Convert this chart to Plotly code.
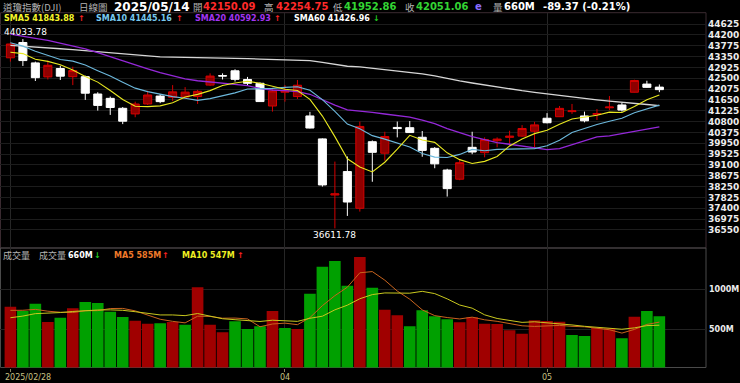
import numpy as np
import plotly.graph_objects as go

# ---------------- data ----------------
dates = ["2025/02/28", "03/03", "03/04", "03/05", "03/06", "03/07", "03/10", "03/11", "03/12", "03/13",
         "03/14", "03/17", "03/18", "03/19", "03/20", "03/21", "03/24", "03/25", "03/26", "03/27",
         "03/28", "03/31", "04/01", "04/02", "04/03", "04/04", "04/07", "04/08", "04/09", "04/10",
         "04/11", "04/14", "04/15", "04/16", "04/17", "04/21", "04/22", "04/23", "04/24", "04/25",
         "04/28", "04/29", "04/30", "05/01", "05/02", "05/05", "05/06", "05/07", "05/08", "05/09",
         "05/12", "05/13", "05/14"]
opens = [43300, 43900, 43100, 42550, 42880, 42560, 42560, 41880, 41710, 41320,
         41100, 41490, 41800, 41750, 41760, 41780, 42230, 42600, 42790, 42450,
         42300, 41410, 41950, 41780, 41020, 40120, 37920, 38840, 37400, 40010,
         39560, 40570, 40560, 40185, 39750, 38900, 38540, 39790, 39580, 40050,
         40180, 40230, 40420, 40930, 40990, 41190, 41020, 41080, 41340, 41450,
         41950, 42270, 42150.09]
highs = [43890, 44033.78, 43150, 43190, 42990, 42950, 42600, 41950, 41780, 41370,
         41580, 42010, 41880, 42230, 42150, 42040, 42690, 42690, 42850, 42550,
         42330, 42120, 42230, 42430, 41180, 40140, 39230, 39430, 40800, 40060,
         40400, 40800, 40820, 40430, 39800, 38950, 39290, 40400, 40180, 40180,
         40440, 40660, 40790, 41130, 41410, 41490, 41190, 41290, 41800, 41540,
         42440, 42400, 42254.75]
lows = [43150, 42980, 42390, 42450, 42430, 42230, 41650, 41230, 41060, 40700,
        40970, 41450, 41520, 41600, 41700, 41490, 42200, 42450, 42370, 42200,
        41580, 41190, 41580, 41685, 40530, 38250, 36611.78, 37100, 37270, 38440,
        39270, 40180, 40360, 39420, 38970, 37860, 38500, 39520, 39400, 39790,
        39840, 40200, 39790, 40730, 40980, 41100, 40770, 40860, 41250, 41190,
        41940, 42120, 41952.86]
closes = [43840.91, 43191.24, 42520.99, 43006.59, 42579.08, 42801.72, 41911.71, 41433.48, 41350.93, 40813.57,
          41488.19, 41841.63, 41581.31, 41964.63, 41953.32, 41985.35, 42583.32, 42587.50, 42454.79, 42299.70,
          41583.90, 42001.76, 41989.96, 42225.32, 40545.93, 38314.86, 37965.60, 37645.59, 40608.45, 39593.66,
          40212.71, 40524.79, 40368.96, 39669.39, 39142.23, 38170.41, 39186.98, 39606.57, 40093.40, 40113.50,
          40227.59, 40527.62, 40669.36, 40752.96, 41317.43, 41218.83, 40829.00, 41113.97, 41368.45, 41249.38,
          42410.10, 42140.43, 42051.06]
volumes = [779, 725, 816, 587, 642, 758, 837, 825, 717, 650,
           604, 567, 571, 587, 554, 1021, 554, 458, 596, 500,
           533, 725, 512, 500, 942, 1279, 1350, 1042, 1400, 1017,
           742, 671, 533, 733, 658, 621, 583, 646, 567, 562,
           483, 442, 608, 600, 592, 425, 412, 517, 508, 383,
           654, 725, 660]
# closes before the first visible day (for the moving averages)
hist_closes = [44782.00, 44705.53, 45014.04, 44765.71, 44642.52, 44401.93, 44247.83, 44148.56, 43914.12, 43828.06,
               43717.48, 43449.90, 42326.87, 42342.24, 42840.26, 42906.95, 43297.03, 43325.80, 42992.21, 42573.73,
               42544.22, 42392.27, 42732.13, 42706.56, 42528.36, 42635.20, 41938.45, 42297.12, 42518.28, 43221.55,
               43153.13, 43487.83, 44025.81, 44156.73, 44565.07, 44424.25, 44713.58, 44850.35, 44713.52, 44882.13,
               44544.66, 44421.91, 44556.04, 44873.28, 44747.63, 44303.40, 44470.41, 44593.65, 44368.56, 44711.43,
               44546.08, 44556.34, 44627.59, 44176.65, 43428.02, 43461.21, 43621.16, 43433.12, 43239.50]
hist_volumes = [520, 510, 530, 565, 620, 720, 760, 700, 706]

price_ticks = [44625, 44200, 43775, 43350, 42925, 42500, 42075, 41650, 41225, 40800,
               40375, 39950, 39525, 39100, 38675, 38250, 37825, 37400, 36975, 36550]
price_tick_text = [str(v) for v in price_ticks]
vol_ticks = [500, 1000]
vol_tick_text = ["500M", "1000M"]
x_tick_dates = ["2025/02/28", "04/01", "05/01"]
x_tick_text = ["2025/02/28", "04", "05"]

header_items = [("道瓊指數(DJI)", "#b4b4b4", False, 9.5), ("日線圖", "#b4b4b4", False, 9.5),
                ("2025/05/14", "#ffffff", True, 12), ("開", "#b4b4b4", False, 9.5),
                ("42150.09", "#ff2a2a", True, 10), ("高", "#b4b4b4", False, 9.5),
                ("42254.75", "#ff2a2a", True, 10), ("低", "#b4b4b4", False, 9.5),
                ("41952.86", "#33d433", True, 10), ("收", "#b4b4b4", False, 9.5),
                ("42051.06", "#33d433", True, 10), ("e", "#8a6cff", True, 10),
                ("量", "#b4b4b4", False, 9.5), ("660M", "#ffffff", True, 10),
                ("-89.37 (-0.21%)", "#ffffff", True, 10)]
header_x = [2, 78, 113, 192, 202, 263, 275, 332, 343, 404, 415, 474, 492, 503, 542]

sma_items = [("SMA5 41843.88", "#f5f52a"), ("↑", "#ff2020"), ("SMA10 41445.16", "#78c8ee"), ("↑", "#ff2020"),
             ("SMA20 40592.93", "#a235f0"), ("↑", "#ff2020"), ("SMA60 41426.96", "#ffffff"), ("↓", "#22cc22")]
sma_x = [3, 77, 95, 175, 194, 273, 293, 372]

vol_items = [("成交量", "#b4b4b4"), ("成交量", "#b4b4b4"), ("660M", "#ffffff"), ("↓", "#22cc22"),
             ("MA5 585M", "#f07a2a"), ("↑", "#ff2020"), ("MA10 547M", "#eeee22"), ("↑", "#ff2020")]
vol_x = [2, 38, 67, 93, 113, 161, 181, 236]

# ---------------- computations ----------------
n = len(closes)
idx = np.arange(n)
all_c = np.array(hist_closes + closes, dtype=float)
off = len(hist_closes)


def sma(arr, k, offset):
    return [float(np.mean(arr[offset + i - k + 1: offset + i + 1])) for i in range(n)]


sma5, sma10, sma20, sma60 = (sma(all_c, k, off) for k in (5, 10, 20, 60))
all_v = np.array(hist_volumes + volumes, dtype=float)
voff = len(hist_volumes)
vma5, vma10 = sma(all_v, 5, voff), sma(all_v, 10, voff)
vol_colors = ["#a00000" if all_c[off + i] > all_c[off + i - 1] else "#00a000" for i in range(n)]

# ---------------- geometry ----------------
W, H = 740, 383
plot_right = 706
price_top, price_bot = 12.7, 248.0
vol_top, vol_bot = 248.0, 367.5


def py(p):
    return 1 - p / H


def px(p):
    return p / W


slot = 12.48
x0px = 10.4
xr = [-x0px / slot, (plot_right - x0px) / slot]
ppu = 10.84 / 425.0  # pixels per price unit
pr = [price_ticks[0] - (price_bot - 24) / ppu, price_ticks[0] + (24 - price_top) / ppu]
vpu = 40 / 500.0
vr = [(369 - vol_bot) / vpu, (369 - vol_top) / vpu]

fig = go.Figure()
fig.add_trace(go.Candlestick(
    x=idx, open=opens, high=highs, low=lows, close=closes,
    increasing=dict(line=dict(color="#d40000", width=1), fillcolor="#8e0000"),
    decreasing=dict(line=dict(color="#ffffff", width=1), fillcolor="#ffffff"),
    whiskerwidth=0, xaxis="x", yaxis="y", hoverinfo="skip"))
for vals, col, w in [(sma60, "#d6d6d6", 1.3), (sma20, "#9428d8", 1.3), (sma10, "#6cb8dc", 1.1), (sma5, "#e8e820", 1.1)]:
    fig.add_trace(go.Scatter(x=idx, y=vals, mode="lines", line=dict(color=col, width=w),
                             xaxis="x", yaxis="y", hoverinfo="skip"))

fig.add_trace(go.Bar(x=idx, y=volumes, marker=dict(color=vol_colors, line=dict(width=0)), width=0.93,
                     xaxis="x2", yaxis="y2", hoverinfo="skip"))
fig.add_trace(go.Scatter(x=idx, y=vma5, mode="lines", line=dict(color="#c8641e", width=1),
                         xaxis="x2", yaxis="y2", hoverinfo="skip"))
fig.add_trace(go.Scatter(x=idx, y=vma10, mode="lines", line=dict(color="#c8c81e", width=1),
                         xaxis="x2", yaxis="y2", hoverinfo="skip"))

xt = [dates.index(d) for d in x_tick_dates]

font_num = "DejaVu Sans"
font_cjk = "Noto Sans CJK TC"

annotations = []
for (txt, col, bold, sz), xx in zip(header_items, header_x):
    is_cjk = any(ord(ch) > 0x2E80 for ch in txt)
    annotations.append(dict(text=txt, x=px(xx), y=py(7), xref="paper", yref="paper", xanchor="left",
                            yanchor="middle", showarrow=False, borderpad=0,
                            font=dict(family=font_cjk if is_cjk else font_num, size=sz, color=col,
                                      weight="bold" if bold else "normal")))
for (txt, col), xx in zip(sma_items, sma_x):
    annotations.append(dict(text=txt, x=px(xx), y=py(18.3), xref="paper", yref="paper", xanchor="left",
                            yanchor="middle", showarrow=False, borderpad=0,
                            font=dict(family=font_num, size=8, color=col, weight="bold")))
for (txt, col), xx in zip(vol_items, vol_x):
    is_cjk = any(ord(ch) > 0x2E80 for ch in txt)
    annotations.append(dict(text=txt, x=px(xx), y=py(255), xref="paper", yref="paper", xanchor="left",
                            yanchor="middle", showarrow=False, borderpad=0,
                            font=dict(family=font_cjk if is_cjk else font_num, size=9 if is_cjk else 8,
                                      color=col, weight="normal" if is_cjk else "bold")))
imax = int(np.argmax(highs))
imin = int(np.argmin(lows))
annotations.append(dict(text=f"{highs[imax]:.2f}", x=imax, y=highs[imax], xref="x", yref="y",
                        xanchor="center", yanchor="bottom", xshift=3, yshift=1, showarrow=False, borderpad=0,
                        font=dict(family=font_num, size=9, color="#ffffff")))
annotations.append(dict(text=f"{lows[imin]:.2f}", x=imin, y=lows[imin], xref="x", yref="y",
                        xanchor="center", yanchor="top", yshift=-1, showarrow=False, borderpad=0,
                        font=dict(family=font_num, size=9, color="#ffffff")))
for k, (ti, tt) in enumerate(zip(xt, x_tick_text)):
    annotations.append(dict(text=tt, x=ti, y=py(377.5), xref="x2", yref="paper",
                            xanchor="left" if k == 0 else "center", xshift=-6 if k == 0 else 0,
                            yanchor="middle", showarrow=False, borderpad=0,
                            font=dict(family=font_num, size=8, color="#c8c282")))

shapes = [
    dict(type="rect", xref="paper", yref="paper", x0=px(0.5), x1=px(plot_right), y0=py(price_bot), y1=py(price_top),
         line=dict(color="#3a2a30", width=1), layer="below"),
    dict(type="rect", xref="paper", yref="paper", x0=px(0.5), x1=px(plot_right), y0=py(vol_bot), y1=py(vol_top),
         line=dict(color="#4a4a4a", width=1), layer="below"),
]

fig.update_layout(
    width=W, height=H, margin=dict(l=0, r=0, t=0, b=0),
    paper_bgcolor="#000000", plot_bgcolor="#000000", showlegend=False,
    boxgap=0.08,
    xaxis=dict(domain=[0, px(plot_right)], range=xr, anchor="y", showticklabels=False,
               tickvals=xt, showgrid=True, gridcolor="#262626", gridwidth=1, zeroline=False,
               rangeslider=dict(visible=False), fixedrange=True),
    xaxis2=dict(domain=[0, px(plot_right)], range=xr, anchor="y2", matches="x", showticklabels=False,
                tickvals=xt, showgrid=True, gridcolor="#262626", gridwidth=1, zeroline=False,
                ticks="outside", ticklen=3, tickcolor="#8a8660", rangeslider=dict(visible=False)),
    yaxis=dict(domain=[py(price_bot), py(price_top)], range=pr, side="right", anchor="x",
               tickvals=price_ticks, ticktext=price_tick_text, ticks="", ticklabelstandoff=1,
               tickfont=dict(family=font_num, size=9, color="#ececec", weight="bold"),
               showgrid=True, gridcolor="#1c1c1c", zeroline=False),
    yaxis2=dict(domain=[py(vol_bot), py(vol_top)], range=vr, side="right", anchor="x2",
                tickvals=vol_ticks, ticktext=vol_tick_text, ticks="", ticklabelstandoff=2,
                tickfont=dict(family=font_num, size=8, color="#ececec", weight="bold"),
                showgrid=True, gridcolor="#222222", zeroline=False),
    annotations=annotations, shapes=shapes,
)

fig.write_html("out.html")
